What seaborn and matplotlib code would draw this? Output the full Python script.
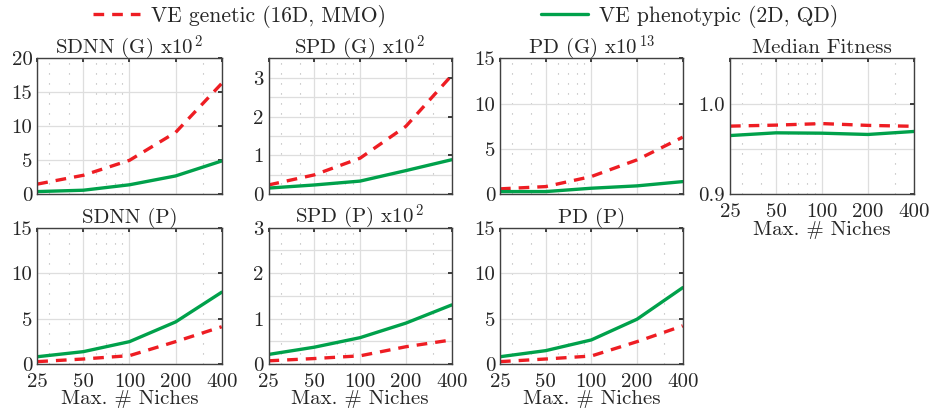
import numpy as np
import pandas as pd
import matplotlib
matplotlib.use("Agg")
import matplotlib.pyplot as plt
import seaborn as sns
from matplotlib.ticker import FixedLocator, FixedFormatter, NullFormatter, FormatStrFormatter

# data
niches = [25, 50, 100, 200, 400]
series_names = ["VE genetic (16D, MMO)", "VE phenotypic (2D, QD)"]

sdnn_g_gen = [1.5, 2.8, 5.0, 9.1, 16.3]
sdnn_g_phe = [0.4, 0.6, 1.4, 2.7, 4.9]
spd_g_gen = [0.24, 0.5, 0.93, 1.75, 3.06]
spd_g_phe = [0.16, 0.24, 0.34, 0.61, 0.89]
pd_g_gen = [0.6, 0.85, 1.96, 3.8, 6.3]
pd_g_phe = [0.3, 0.3, 0.67, 0.93, 1.4]
fit_gen = [0.9752, 0.9763, 0.978, 0.976, 0.975]
fit_phe = [0.9648, 0.9678, 0.9674, 0.966, 0.9693]
sdnn_p_gen = [0.26, 0.55, 0.92, 2.46, 4.1]
sdnn_p_phe = [0.8, 1.36, 2.46, 4.63, 7.9]
spd_p_gen = [0.07, 0.12, 0.18, 0.38, 0.53]
spd_p_phe = [0.21, 0.37, 0.58, 0.9, 1.3]
pd_p_gen = [0.26, 0.55, 0.88, 2.46, 4.2]
pd_p_phe = [0.8, 1.47, 2.65, 4.93, 8.4]

titles = [r"SDNN (G) x10$^{\,2}$", r"SPD (G) x10$^{\,2}$", r"PD (G) x10$^{\,13}$",
          "Median Fitness", "SDNN (P)", r"SPD (P) x10$^{\,2}$", "PD (P)"]

# (genetic, phenotypic, ylim, major y ticks, extra y grid lines)
panels = [
    (sdnn_g_gen, sdnn_g_phe, (0, 20), [0, 5, 10, 15, 20], []),
    (spd_g_gen, spd_g_phe, (0, 3.5), [0, 1, 2, 3], [0.5, 1.5, 2.5]),
    (pd_g_gen, pd_g_phe, (0, 15), [0, 5, 10, 15], []),
    (fit_gen, fit_phe, (0.9, 1.05), [0.9, 1.0], [0.95]),
    (sdnn_p_gen, sdnn_p_phe, (0, 15), [0, 5, 10, 15], []),
    (spd_p_gen, spd_p_phe, (0, 3), [0, 1, 2, 3], [0.5, 1.5, 2.5]),
    (pd_p_gen, pd_p_phe, (0, 15), [0, 5, 10, 15], []),
]

sns.set_theme(style="white")
plt.rcParams["font.family"] = ["cmr10", "DejaVu Serif"]
plt.rcParams["mathtext.fontset"] = "cm"
plt.rcParams["axes.formatter.use_mathtext"] = True
FS = 15

fig = plt.figure(figsize=(9.31, 4.11), dpi=100)

W, H = 931.0, 411.0
boxes = [
    (37.3, 58.3, 184.4, 136.0), (268.5, 58.3, 183.2, 136.0),
    (500.0, 58.3, 182.7, 136.0), (730.0, 58.3, 184.0, 136.0),
    (37.3, 227.7, 184.4, 136.3), (268.5, 227.7, 183.2, 136.3),
    (500.0, 227.7, 182.7, 136.3),
]

colors = {series_names[0]: "#ee1d23", series_names[1]: "#00a14b"}
minor_x = [30, 40, 60, 70, 80, 90, 300]

axes = []
for i, (gen, phe, ylim, yt, ymin) in enumerate(panels):
    x0, y0, w, h = boxes[i]
    ax = fig.add_axes([x0 / W, 1 - (y0 + h) / H, w / W, h / H])
    axes.append(ax)
    df = pd.DataFrame({
        "niches": niches * 2,
        "value": gen + phe,
        "series": [series_names[0]] * 5 + [series_names[1]] * 5,
    })
    sns.lineplot(data=df, x="niches", y="value", hue="series", style="series",
                 palette=colors, dashes={series_names[0]: (3.2, 2.4), series_names[1]: ""},
                 linewidth=2.4, ax=ax, legend=(i == 0))
    ax.set_xscale("log")
    ax.set_xlim(25, 400)
    ax.set_ylim(*ylim)
    ax.xaxis.set_major_locator(FixedLocator(niches))
    ax.xaxis.set_minor_locator(FixedLocator(minor_x))
    ax.xaxis.set_minor_formatter(NullFormatter())
    ax.yaxis.set_major_locator(FixedLocator(yt))
    ax.yaxis.set_minor_locator(FixedLocator(ymin))
    if i == 3:
        ax.yaxis.set_major_formatter(FormatStrFormatter("%.1f"))
    else:
        ax.yaxis.set_major_formatter(FixedFormatter([f"{v:g}" for v in yt]))
    if i in (3, 4, 5, 6):
        ax.xaxis.set_major_formatter(FixedFormatter([str(n) for n in niches]))
        ax.set_xlabel("Max. # Niches", fontsize=FS, labelpad=-0.5)
    else:
        ax.xaxis.set_major_formatter(NullFormatter())
        ax.set_xlabel("")
    ax.set_ylabel("")
    # title baseline a few pixels above the frame
    ax.set_title(titles[i], fontsize=FS, y=1 + 5.0 / h, va="baseline", pad=0)
    ax.grid(True, which="major", color="#dedede", linewidth=0.9, linestyle="-")
    ax.xaxis.grid(True, which="minor", color="#b0b0b0", linewidth=0.8, linestyle=(0, (1, 8)))
    ax.yaxis.grid(True, which="minor", color="#dedede", linewidth=0.9, linestyle="-")
    ax.set_axisbelow(True)
    for s in ax.spines.values():
        s.set_color("#404040")
        s.set_linewidth(1.0)
    ax.tick_params(axis="both", which="major", direction="in", length=3,
                   top=True, right=True, labelsize=FS, colors="#262626")
    ax.tick_params(axis="x", which="major", pad=6.5)
    ax.tick_params(axis="y", which="major", pad=3.5)
    ax.tick_params(axis="both", which="minor", length=0)

handles, labels = axes[0].get_legend_handles_labels()
axes[0].get_legend().remove()
fig.legend(handles, labels, loc="upper center", bbox_to_anchor=(0.5, 1.035), ncol=2,
           frameon=False, fontsize=15.5, columnspacing=7.2, handlelength=2.2,
           handletextpad=0.5)

fig.savefig("out.png", dpi=100)
